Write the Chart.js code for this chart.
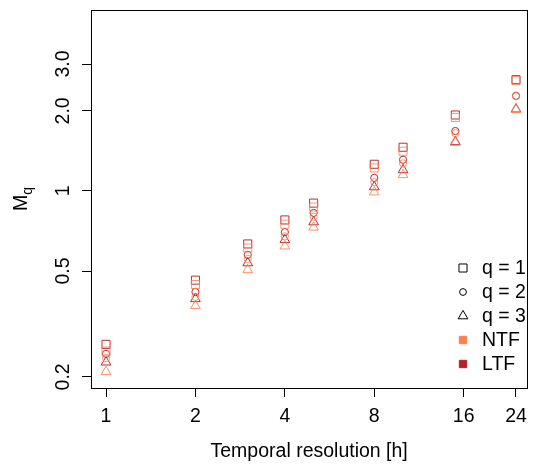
<!DOCTYPE html>
<html>
<head>
<meta charset="utf-8">
<script src="https://cdn.jsdelivr.net/npm/chart.js@4.4.0/dist/chart.umd.min.js"></script>
<style>
  html, body { margin: 0; padding: 0; background: #fff; }
</style>
</head>
<body>
<canvas id="graphique" width="534" height="464"></canvas>
<script>
// temporal resolutions (h)
const resolutions = [1, 2, 3, 4, 5, 8, 10, 15, 24];

// NTF
const ntfQ1 = [0.25, 0.445, 0.61, 0.75, 0.87, 1.22, 1.41, 1.89, 2.60];
const ntfQ2 = [0.235, 0.40, 0.555, 0.675, 0.80, 1.08, 1.27, 1.65, 2.27];
const ntfQ3 = [0.209, 0.37, 0.505, 0.62, 0.73, 0.99, 1.15, 1.52, 2.02];

// LTF
const ltfQ1 = [0.265, 0.462, 0.632, 0.778, 0.90, 1.26, 1.46, 1.93, 2.62];
const ltfQ2 = [0.244, 0.417, 0.575, 0.70, 0.827, 1.12, 1.31, 1.68, 2.28];
const ltfQ3 = [0.227, 0.393, 0.536, 0.655, 0.764, 1.035, 1.20, 1.53, 2.03];

const xTickValues = [1, 2, 4, 8, 16, 24];
const xTickLabels = ['1', '2', '4', '8', '16', '24'];
const yTickValues = [0.2, 0.5, 1, 2, 3];
const yTickLabels = ['0.2', '0.5', '1', '2.0', '3.0'];

const legendLabels = ['q = 1', 'q = 2', 'q = 3', 'NTF', 'LTF'];

const colNTF = 'rgba(255, 127, 80, 0.85)';
const colLTF = 'rgba(170, 28, 32, 0.9)';
const police = 'Liberation Sans, Arial, sans-serif';

function pts(values) {
  return resolutions.map((r, i) => ({ x: r, y: values[i] }));
}

function serie(values, color, style, radius) {
  return {
    data: pts(values),
    showLine: false,
    pointStyle: style,
    pointRadius: radius,
    pointHoverRadius: radius,
    pointBorderWidth: 1,
    borderColor: color,
    backgroundColor: 'rgba(0,0,0,0)',
    pointBackgroundColor: 'rgba(0,0,0,0)'
  };
}

const boxPlugin = {
  id: 'box',
  afterDraw(chart) {
    const ctx = chart.ctx;
    const a = chart.chartArea;
    ctx.save();
    ctx.strokeStyle = '#000';
    ctx.lineWidth = 1;
    ctx.strokeRect(Math.round(a.left) + 0.5, Math.round(a.top) + 0.5,
      Math.round(a.right - a.left), Math.round(a.bottom - a.top));

    // titre y avec indice
    ctx.translate(27, (a.top + a.bottom) / 2);
    ctx.rotate(-Math.PI / 2);
    ctx.fillStyle = '#000';
    ctx.textBaseline = 'alphabetic';
    ctx.textAlign = 'left';
    ctx.font = '19.5px ' + police;
    const wM = ctx.measureText('M').width;
    ctx.font = '14px ' + police;
    const wq = ctx.measureText('q').width;
    const x0 = -(wM + wq) / 2;
    ctx.font = '19.5px ' + police;
    ctx.fillText('M', x0, 0);
    ctx.font = '14px ' + police;
    ctx.fillText('q', x0 + wM, 5);
    ctx.restore();

    // legende
    ctx.save();
    const lx = 463, tx = 482;
    const rows = [268, 292, 316, 340, 364];
    const styles = ['rect', 'circle', 'triangle', 'rect', 'rect'];
    const radii = [5.7, 3.4, 5.6, 5.2, 5.2];
    ctx.font = '19.5px ' + police;
    ctx.textBaseline = 'middle';
    ctx.textAlign = 'left';
    legendLabels.forEach((lab, i) => {
      const y = rows[i];
      if (i < 3) {
        ctx.strokeStyle = '#000';
        ctx.fillStyle = 'rgba(0,0,0,0)';
      } else {
        const c = i === 3 ? '#ff7f50' : '#b22222';
        ctx.strokeStyle = c;
        ctx.fillStyle = c;
      }
      ctx.lineWidth = 1;
      Chart.helpers.drawPoint(ctx, { pointStyle: styles[i], radius: radii[i], borderWidth: 1, rotation: 0 }, lx, y);
      ctx.fillStyle = '#000';
      ctx.fillText(lab, tx, y + 1);
    });
    ctx.restore();
  }
};

const ctx = document.getElementById('graphique').getContext('2d');

new Chart(ctx, {
  type: 'scatter',
  data: {
    datasets: [
      serie(ntfQ1, colNTF, 'rect', 5.7),
      serie(ntfQ2, colNTF, 'circle', 3.6),
      serie(ntfQ3, colNTF, 'triangle', 5.6),
      serie(ltfQ1, colLTF, 'rect', 5.7),
      serie(ltfQ2, colLTF, 'circle', 3.6),
      serie(ltfQ3, colLTF, 'triangle', 5.6)
    ]
  },
  options: {
    responsive: false,
    animation: false,
    devicePixelRatio: 1,
    layout: { padding: { top: 10, right: 3, bottom: 0, left: 0 } },
    plugins: {
      legend: { display: false },
      tooltip: { enabled: false }
    },
    scales: {
      x: {
        type: 'logarithmic',
        position: 'bottom',
        min: 0.89,
        max: 26.2,
        bounds: 'data',
        afterBuildTicks: s => { s.ticks = xTickValues.map(v => ({ value: v })); },
        afterFit: s => { s.height = 76; s.paddingLeft = 0; s.paddingRight = 0; },
        ticks: {
          autoSkip: false,
          minRotation: 0,
          maxRotation: 0,
          padding: 8,
          color: '#000',
          font: { family: police, size: 19.5 },
          callback: (v, i) => xTickLabels[i]
        },
        grid: { drawOnChartArea: false, drawTicks: true, tickLength: 9, color: '#000', lineWidth: 1 },
        border: { display: true, color: '#000' },
        title: {
          display: true,
          text: 'Temporal resolution [h]',
          color: '#000',
          font: { family: police, size: 19.5 },
          padding: { top: 0, bottom: 1 }
        }
      },
      y: {
        type: 'logarithmic',
        position: 'left',
        min: 0.1816,
        max: 4.79,
        bounds: 'data',
        afterBuildTicks: s => { s.ticks = yTickValues.map(v => ({ value: v })); },
        afterFit: s => { s.width = 91; s.paddingTop = 0; s.paddingBottom = 0; },
        ticks: {
          autoSkip: false,
          minRotation: 90,
          maxRotation: 90,
          crossAlign: 'center',
          padding: 5,
          color: '#000',
          font: { family: police, size: 19.5 },
          callback: (v, i) => yTickLabels[i]
        },
        grid: { drawOnChartArea: false, drawTicks: true, tickLength: 9, color: '#000', lineWidth: 1 },
        border: { display: true, color: '#000' }
      }
    }
  },
  plugins: [boxPlugin]
});
</script>
</body>
</html>
